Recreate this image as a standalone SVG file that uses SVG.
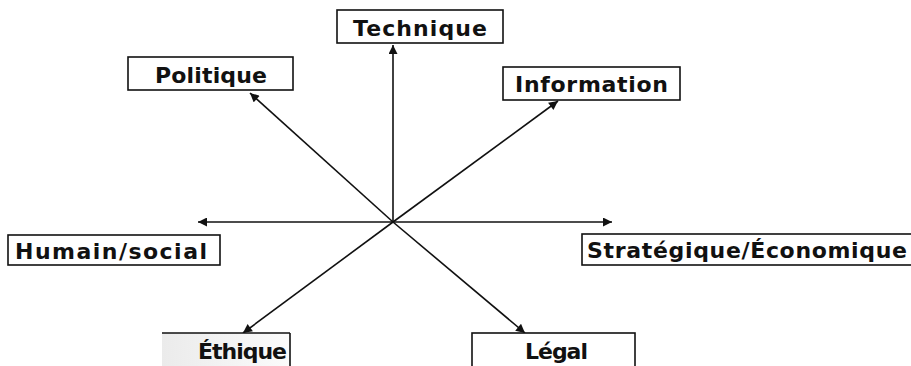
<svg xmlns="http://www.w3.org/2000/svg" width="911" height="366" viewBox="0 0 911 366">
<style>
.box{fill:#fff;stroke:#111;stroke-width:1.6}
.lbl{font-family:"DejaVu Sans",Verdana,sans-serif;font-weight:bold;font-size:22px;fill:#111}
.con{stroke:#111;stroke-width:1.6;fill:none;marker-end:url(#ah)}
</style>
<defs>
<marker id="ah" viewBox="0 0 10 10" refX="10" refY="5" markerWidth="10" markerHeight="9" markerUnits="userSpaceOnUse" orient="auto">
<path d="M0,0 L10,5 L0,10 z" fill="#111"/>
</marker>
<linearGradient id="eg" x1="0" y1="0" x2="1" y2="0">
<stop offset="0" stop-color="#ebebeb"/>
<stop offset="1" stop-color="#fbfbfb"/>
</linearGradient>
</defs>
<rect width="911" height="366" fill="#fff"/>
<g id="connectors">
<line class="con" x1="393" y1="222" x2="393" y2="45"/>
<line class="con" x1="393" y1="222" x2="250" y2="93"/>
<line class="con" x1="393" y1="222" x2="558" y2="101"/>
<line class="con" x1="393" y1="222" x2="198" y2="222"/>
<line class="con" x1="393" y1="222" x2="612" y2="222"/>
<line class="con" x1="393" y1="222" x2="243" y2="333"/>
<line class="con" x1="393" y1="222" x2="525" y2="333"/>
</g>
<g id="technique">
<rect class="box" x="337" y="10" width="166" height="33"/>
<text class="lbl" x="353" y="36" textLength="134" lengthAdjust="spacing">Technique</text>
</g>
<g id="politique">
<rect class="box" x="128" y="57" width="165" height="33"/>
<text class="lbl" x="155" y="83" textLength="112" lengthAdjust="spacing">Politique</text>
</g>
<g id="information">
<rect class="box" x="503" y="67" width="177" height="33"/>
<text class="lbl" x="515" y="92" textLength="153" lengthAdjust="spacing">Information</text>
</g>
<g id="humain">
<rect class="box" x="8" y="235" width="212" height="30"/>
<text class="lbl" x="15" y="259" textLength="192" lengthAdjust="spacing">Humain/social</text>
</g>
<g id="strategique">
<rect class="box" x="582" y="234" width="340" height="31"/>
<text class="lbl" x="587" y="258" textLength="320" lengthAdjust="spacing">Stratégique/Économique</text>
</g>
<g id="ethique">
<rect x="162" y="333" width="128" height="40" fill="url(#eg)"/>
<line x1="162" y1="333" x2="290" y2="333" stroke="#111" stroke-width="1.6"/>
<line x1="290" y1="333" x2="290" y2="366" stroke="#111" stroke-width="1.6"/>
<text class="lbl" x="198" y="359" textLength="89" lengthAdjust="spacing">Éthique</text>
</g>
<g id="legal">
<rect class="box" x="472" y="333" width="163" height="40"/>
<text class="lbl" x="525" y="359" textLength="63" lengthAdjust="spacing">Légal</text>
</g>
</svg>
